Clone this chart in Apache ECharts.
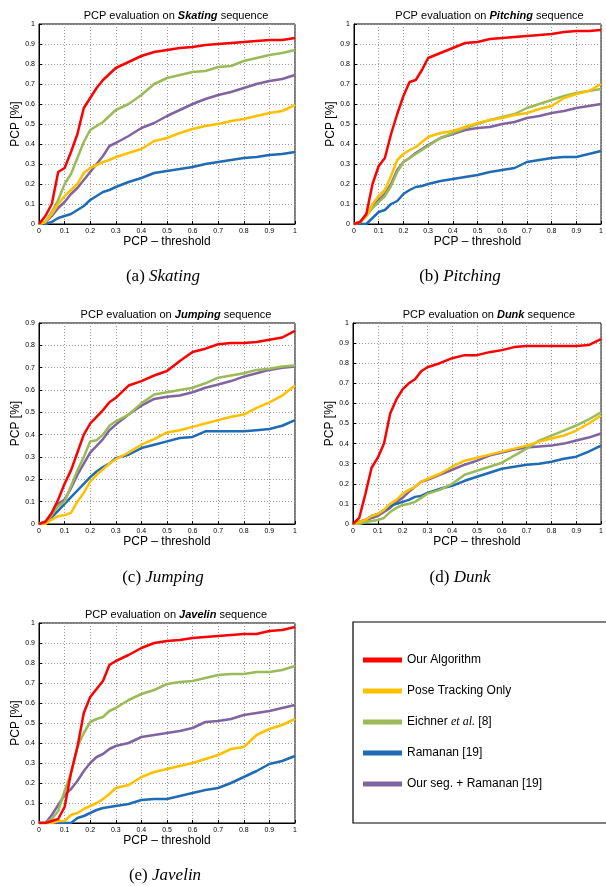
<!DOCTYPE html>
<html>
<head>
<meta charset="utf-8">
<script src="https://cdn.jsdelivr.net/npm/echarts@6/dist/echarts.min.js"></script>
<style>
  html, body { margin: 0; padding: 0; background: #fff; }
  #main { width: 606px; height: 886px; }
</style>
</head>
<body>
<div id="main"></div>
<script>
// PCP threshold samples (x axis), shared by every plot
var thresholds = [0, 0.025, 0.05, 0.075, 0.1, 0.125, 0.15, 0.175, 0.2, 0.225, 0.25, 0.275, 0.3,
  0.35, 0.4, 0.45, 0.5, 0.55, 0.6, 0.65, 0.7, 0.75, 0.8, 0.85, 0.9, 0.95, 1];

var methodNames = ['Our Algorithm', 'Pose Tracking Only', 'Eichner et al. [8]', 'Ramanan [19]', 'Our seg. + Ramanan [19]'];
var methodColors = ['#ff0000', '#ffc000', '#9bbb59', '#1f6bb5', '#8064a2'];

// Skating
var skatingOurs    = [0, 0.04, 0.1, 0.26, 0.28, 0.36, 0.45, 0.58, 0.63, 0.68, 0.72, 0.75, 0.78, 0.81, 0.84, 0.86, 0.87, 0.88, 0.885, 0.895, 0.9, 0.905, 0.91, 0.915, 0.92, 0.92, 0.93];
var skatingPose    = [0, 0.01, 0.05, 0.1, 0.14, 0.17, 0.2, 0.255, 0.28, 0.295, 0.31, 0.32, 0.335, 0.355, 0.375, 0.415, 0.43, 0.455, 0.475, 0.49, 0.5, 0.515, 0.525, 0.54, 0.555, 0.565, 0.595];
var skatingEichner = [0, 0.01, 0.06, 0.12, 0.2, 0.25, 0.33, 0.41, 0.47, 0.49, 0.51, 0.54, 0.57, 0.6, 0.645, 0.7, 0.73, 0.745, 0.76, 0.765, 0.785, 0.79, 0.815, 0.83, 0.845, 0.855, 0.87];
var skatingRamanan = [0, 0, 0.01, 0.03, 0.04, 0.05, 0.07, 0.09, 0.12, 0.14, 0.16, 0.17, 0.185, 0.21, 0.23, 0.255, 0.265, 0.275, 0.285, 0.3, 0.31, 0.32, 0.33, 0.335, 0.345, 0.35, 0.36];
var skatingSegRam  = [0, 0.01, 0.04, 0.08, 0.11, 0.15, 0.18, 0.22, 0.26, 0.3, 0.34, 0.39, 0.405, 0.44, 0.48, 0.505, 0.54, 0.57, 0.6, 0.625, 0.645, 0.66, 0.68, 0.7, 0.715, 0.725, 0.745];

// Pitching
var pitchingOurs    = [0, 0.01, 0.05, 0.2, 0.29, 0.33, 0.45, 0.55, 0.64, 0.71, 0.72, 0.77, 0.83, 0.855, 0.88, 0.905, 0.91, 0.925, 0.93, 0.935, 0.94, 0.945, 0.95, 0.96, 0.965, 0.965, 0.97];
var pitchingPose    = [0, 0.01, 0.04, 0.1, 0.14, 0.17, 0.24, 0.32, 0.35, 0.37, 0.385, 0.41, 0.435, 0.455, 0.465, 0.485, 0.505, 0.52, 0.53, 0.545, 0.555, 0.575, 0.59, 0.63, 0.65, 0.665, 0.7];
var pitchingEichner = [0, 0.01, 0.04, 0.08, 0.11, 0.14, 0.19, 0.26, 0.31, 0.33, 0.35, 0.37, 0.39, 0.43, 0.455, 0.48, 0.5, 0.52, 0.535, 0.55, 0.58, 0.6, 0.62, 0.64, 0.655, 0.665, 0.675];
var pitchingRamanan = [0, 0, 0, 0.03, 0.06, 0.07, 0.1, 0.115, 0.15, 0.17, 0.185, 0.19, 0.2, 0.215, 0.225, 0.235, 0.245, 0.26, 0.27, 0.28, 0.31, 0.32, 0.33, 0.335, 0.335, 0.35, 0.365];
var pitchingSegRam  = [0, 0.01, 0.05, 0.09, 0.12, 0.15, 0.2, 0.27, 0.31, 0.33, 0.355, 0.375, 0.395, 0.43, 0.45, 0.47, 0.48, 0.485, 0.5, 0.51, 0.53, 0.54, 0.555, 0.565, 0.58, 0.59, 0.6];

// Jumping
var jumpingOurs    = [0, 0.01, 0.05, 0.11, 0.18, 0.24, 0.32, 0.4, 0.45, 0.48, 0.51, 0.545, 0.565, 0.62, 0.64, 0.665, 0.685, 0.73, 0.77, 0.785, 0.805, 0.81, 0.81, 0.815, 0.825, 0.835, 0.865];
var jumpingPose    = [0, 0, 0.02, 0.035, 0.04, 0.05, 0.1, 0.14, 0.19, 0.22, 0.245, 0.27, 0.29, 0.32, 0.355, 0.38, 0.41, 0.42, 0.435, 0.45, 0.465, 0.48, 0.49, 0.52, 0.545, 0.575, 0.62];
var jumpingEichner = [0, 0.01, 0.04, 0.08, 0.1, 0.17, 0.24, 0.3, 0.37, 0.375, 0.4, 0.44, 0.46, 0.49, 0.54, 0.58, 0.59, 0.6, 0.61, 0.63, 0.655, 0.665, 0.675, 0.69, 0.695, 0.705, 0.71];
var jumpingRamanan = [0, 0.01, 0.03, 0.06, 0.09, 0.12, 0.15, 0.18, 0.21, 0.235, 0.255, 0.27, 0.295, 0.31, 0.34, 0.355, 0.37, 0.385, 0.39, 0.415, 0.415, 0.415, 0.415, 0.42, 0.425, 0.44, 0.465];
var jumpingSegRam  = [0, 0.01, 0.04, 0.09, 0.11, 0.16, 0.22, 0.27, 0.32, 0.35, 0.38, 0.42, 0.445, 0.49, 0.53, 0.56, 0.57, 0.575, 0.59, 0.61, 0.625, 0.64, 0.66, 0.675, 0.69, 0.7, 0.705];

// Dunk
var dunkOurs    = [0, 0.03, 0.15, 0.28, 0.33, 0.4, 0.55, 0.62, 0.67, 0.7, 0.72, 0.76, 0.78, 0.8, 0.825, 0.84, 0.84, 0.855, 0.865, 0.88, 0.885, 0.885, 0.885, 0.885, 0.885, 0.89, 0.92];
var dunkPose    = [0, 0.01, 0.02, 0.04, 0.05, 0.07, 0.1, 0.12, 0.15, 0.17, 0.185, 0.21, 0.225, 0.25, 0.285, 0.315, 0.33, 0.345, 0.36, 0.375, 0.39, 0.41, 0.425, 0.44, 0.465, 0.5, 0.54];
var dunkEichner = [0, 0, 0.01, 0.015, 0.02, 0.03, 0.06, 0.08, 0.095, 0.1, 0.11, 0.13, 0.15, 0.17, 0.2, 0.245, 0.265, 0.285, 0.305, 0.34, 0.375, 0.415, 0.44, 0.465, 0.49, 0.52, 0.555];
var dunkRamanan = [0, 0.01, 0.02, 0.04, 0.05, 0.07, 0.09, 0.1, 0.11, 0.12, 0.135, 0.14, 0.155, 0.175, 0.19, 0.215, 0.235, 0.255, 0.275, 0.285, 0.295, 0.3, 0.31, 0.325, 0.335, 0.36, 0.39];
var dunkSegRam  = [0, 0.01, 0.02, 0.03, 0.04, 0.06, 0.08, 0.11, 0.13, 0.16, 0.185, 0.21, 0.22, 0.245, 0.27, 0.295, 0.315, 0.34, 0.355, 0.37, 0.38, 0.385, 0.39, 0.4, 0.415, 0.43, 0.45];

// Javelin
var javelinOurs    = [0, 0, 0.01, 0.02, 0.08, 0.25, 0.38, 0.55, 0.63, 0.67, 0.71, 0.79, 0.81, 0.84, 0.875, 0.9, 0.91, 0.915, 0.925, 0.93, 0.935, 0.94, 0.945, 0.945, 0.96, 0.965, 0.98];
var javelinPose    = [0, 0, 0, 0.01, 0.01, 0.04, 0.05, 0.07, 0.085, 0.1, 0.12, 0.145, 0.175, 0.19, 0.23, 0.255, 0.27, 0.285, 0.3, 0.32, 0.34, 0.37, 0.38, 0.44, 0.47, 0.49, 0.52];
var javelinEichner = [0, 0, 0.02, 0.06, 0.16, 0.25, 0.38, 0.45, 0.505, 0.52, 0.53, 0.56, 0.575, 0.615, 0.645, 0.665, 0.695, 0.705, 0.71, 0.725, 0.74, 0.745, 0.745, 0.755, 0.755, 0.765, 0.785];
var javelinRamanan = [0, 0, 0, 0, 0, 0, 0.025, 0.035, 0.05, 0.065, 0.075, 0.08, 0.085, 0.095, 0.115, 0.12, 0.12, 0.135, 0.15, 0.165, 0.175, 0.2, 0.23, 0.26, 0.295, 0.31, 0.335];
var javelinSegRam  = [0, 0, 0.04, 0.09, 0.14, 0.17, 0.21, 0.26, 0.3, 0.33, 0.345, 0.37, 0.385, 0.4, 0.43, 0.44, 0.45, 0.46, 0.475, 0.505, 0.51, 0.52, 0.54, 0.55, 0.56, 0.575, 0.59];

var plots = [
  { name: 'Skating',  tag: '(a) ', ymax: 1,   box: [39, 24, 256, 200],  cap: [158, 274],
    lines: [skatingOurs, skatingPose, skatingEichner, skatingRamanan, skatingSegRam] },
  { name: 'Pitching', tag: '(b) ', ymax: 1,   box: [354, 24, 253, 200], cap: [455, 274],
    lines: [pitchingOurs, pitchingPose, pitchingEichner, pitchingRamanan, pitchingSegRam] },
  { name: 'Jumping',  tag: '(c) ', ymax: 0.9, box: [39, 323, 256, 201], cap: [158, 575],
    lines: [jumpingOurs, jumpingPose, jumpingEichner, jumpingRamanan, jumpingSegRam] },
  { name: 'Dunk',     tag: '(d) ', ymax: 1,   box: [353, 323, 254, 201], cap: [455, 575],
    lines: [dunkOurs, dunkPose, dunkEichner, dunkRamanan, dunkSegRam] },
  { name: 'Javelin',  tag: '(e) ', ymax: 1,   box: [39, 623, 256, 200], cap: [160, 873],
    lines: [javelinOurs, javelinPose, javelinEichner, javelinRamanan, javelinSegRam] }
];

var sans = 'Liberation Sans, Arial, sans-serif';
var serif = 'Liberation Serif, Times New Roman, serif';

function tickText(v) { return String(+v.toFixed(1)); }

var chart = echarts.init(document.getElementById('main'), null, { renderer: 'canvas' });

var grids = [], xAxes = [], yAxes = [], titles = [], series = [];
plots.forEach(function (p, i) {
  grids.push({
    left: p.box[0], top: p.box[1], width: p.box[2], height: p.box[3],
    show: true, borderColor: '#000', borderWidth: 1, backgroundColor: '#fff'
  });
  var axisCommon = {
    gridIndex: i, type: 'value', min: 0, interval: 0.1,
    axisLine: { show: true, onZero: false, lineStyle: { color: '#000', width: 1 } },
    axisTick: { show: true, inside: true, length: 3, lineStyle: { color: '#000' } },
    axisLabel: { fontSize: 7, color: '#000', fontFamily: sans, margin: 4, formatter: tickText },
    splitLine: { show: true, lineStyle: { color: '#999', type: [1, 2], width: 1 } },
    nameLocation: 'middle',
    nameTextStyle: { fontSize: 12, color: '#000', fontFamily: sans }
  };
  xAxes.push(Object.assign({}, axisCommon, { max: 1, name: 'PCP \u2013 threshold', nameGap: 11 }));
  yAxes.push(Object.assign({}, axisCommon, { max: p.ymax, name: 'PCP [%]', nameGap: 17 }));
  titles.push({
    text: '{n|PCP evaluation on }{b|' + p.name + '}{n| sequence}',
    left: p.box[0] + p.box[2] / 2 + 4, top: p.box[1] - 19, textAlign: 'center',
    textStyle: {
      fontWeight: 'normal',
      rich: {
        n: { fontSize: 11, fontFamily: sans, color: '#000', fontWeight: 'normal' },
        b: { fontSize: 11, fontFamily: sans, color: '#000', fontWeight: 'bold', fontStyle: 'italic' }
      }
    }
  });
  titles.push({
    text: '{n|' + p.tag + '}{i|' + p.name + '}',
    left: p.cap[0], top: p.cap[1] - 11, textAlign: 'center',
    textStyle: {
      fontWeight: 'normal',
      rich: {
        n: { fontSize: 17, fontFamily: serif, color: '#000', fontWeight: 'normal' },
        i: { fontSize: 17, fontFamily: serif, color: '#000', fontWeight: 'normal', fontStyle: 'italic' }
      }
    }
  });
  p.lines.forEach(function (vals, k) {
    series.push({
      name: methodNames[k], type: 'line', xAxisIndex: i, yAxisIndex: i,
      data: thresholds.map(function (t, j) { return [t, vals[j]]; }),
      showSymbol: false, symbol: 'none', clip: true,
      lineStyle: { color: methodColors[k], width: 2.5 },
      itemStyle: { color: methodColors[k] },
      z: 10 - k
    });
  });
});

chart.setOption({
  animation: false,
  backgroundColor: '#fff',
  title: titles,
  grid: grids,
  xAxis: xAxes,
  yAxis: yAxes,
  legend: {
    data: methodNames,
    orient: 'vertical',
    left: 353, top: 622,
    padding: [30, 70, 31, 10],
    itemGap: 15, itemWidth: 39, itemHeight: 5,
    icon: 'rect',
    borderColor: '#000', borderWidth: 1.2,
    selectedMode: false,
    formatter: function (n) {
      if (n === 'Eichner et al. [8]') return 'Eichner {i|et al.} [8]';
      return n;
    },
    textStyle: {
      fontSize: 12, color: '#000', fontFamily: sans, lineHeight: 16,
      rich: { i: { fontSize: 12, fontFamily: serif, fontStyle: 'italic', color: '#000' } }
    }
  },
  series: series
});
</script>
</body>
</html>
